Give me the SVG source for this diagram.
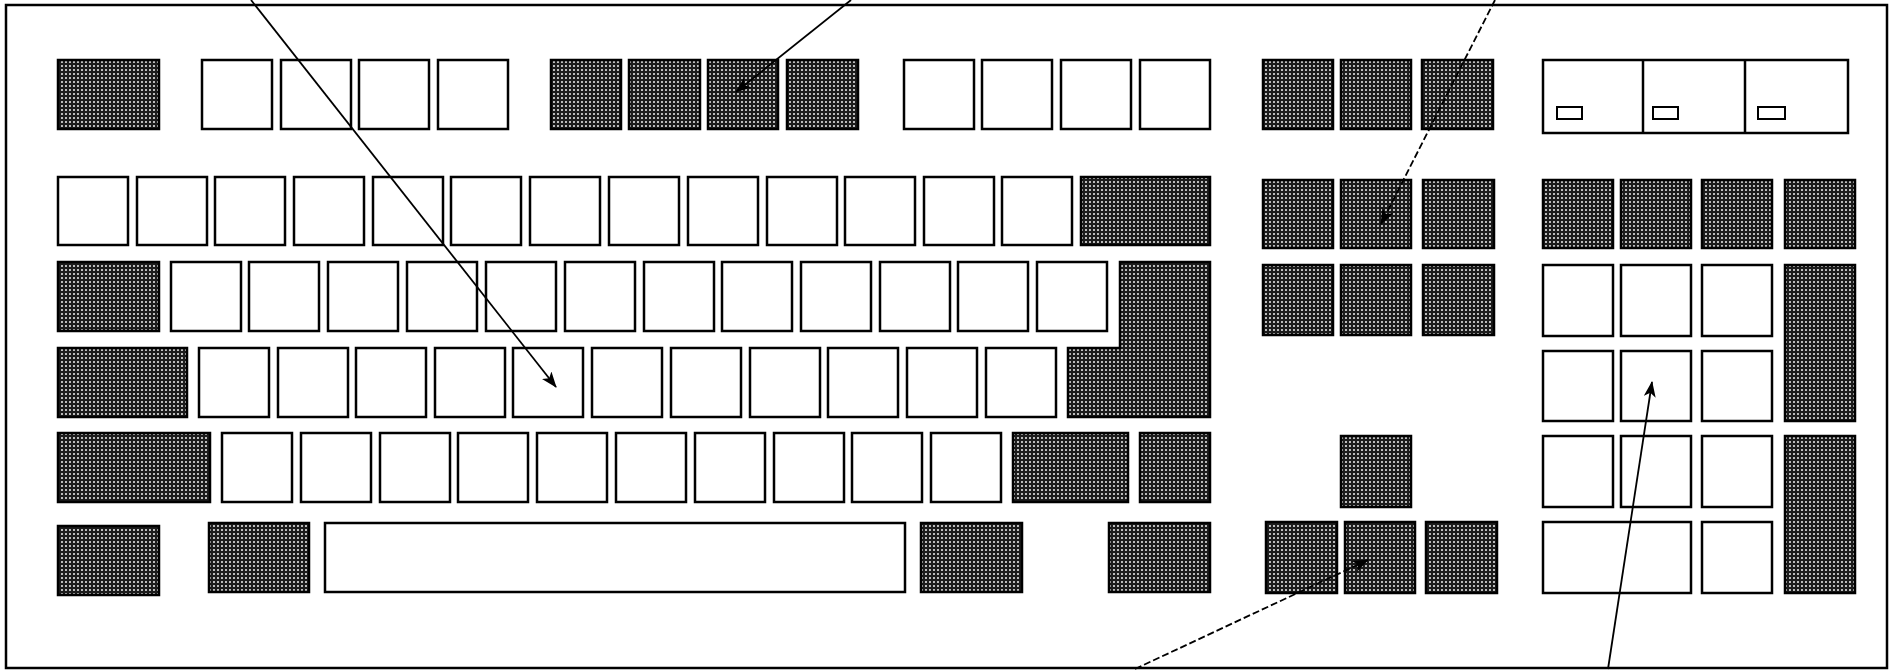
<svg xmlns="http://www.w3.org/2000/svg" width="1893" height="670" viewBox="0 0 1893 670">
<defs>
<pattern id="dots" width="4" height="4" patternUnits="userSpaceOnUse">
<rect width="4" height="4" fill="#1c1c1c"/>
<circle cx="2" cy="2" r="0.95" fill="#fff"/>
</pattern>
<marker id="ah" markerWidth="16" markerHeight="12" refX="15" refY="6" orient="auto" markerUnits="userSpaceOnUse">
<path d="M0,0 L16,6 L0,12 L4,6 z" fill="#000"/>
</marker>
<style>
.k{fill:#fff;stroke:#000;stroke-width:2.5}
.s{fill:url(#dots);stroke:#000;stroke-width:2.5}
.frame{fill:#fff;stroke:#000;stroke-width:2.5}
.led{fill:#fff;stroke:#000;stroke-width:2}
.c{fill:none;stroke:#000;stroke-width:1.8;marker-end:url(#ah)}
</style>
</defs>
<rect width="1893" height="670" fill="#fff"/>
<rect id="keyboard-frame" class="frame" x="6" y="5" width="1881" height="663"/>

<g id="function-row">
<rect class="s" x="58" y="60" width="101" height="69"/>
<rect class="k" x="202" y="60" width="70" height="69"/>
<rect class="k" x="281" y="60" width="70" height="69"/>
<rect class="k" x="359" y="60" width="70" height="69"/>
<rect class="k" x="438" y="60" width="70" height="69"/>
<rect class="s" x="551" y="60" width="70" height="69"/>
<rect class="s" x="629" y="60" width="71" height="69"/>
<rect class="s" x="708" y="60" width="70" height="69"/>
<rect class="s" x="787" y="60" width="71" height="69"/>
<rect class="k" x="904" y="60" width="70" height="69"/>
<rect class="k" x="982" y="60" width="70" height="69"/>
<rect class="k" x="1061" y="60" width="70" height="69"/>
<rect class="k" x="1140" y="60" width="70" height="69"/>
</g>

<g id="system-keys">
<rect class="s" x="1263" y="60" width="70" height="69"/>
<rect class="s" x="1341" y="60" width="70" height="69"/>
<rect class="s" x="1422" y="60" width="71" height="69"/>
</g>

<g id="indicator-panel">
<rect class="k" x="1543" y="60" width="305" height="73"/>
<line x1="1643" y1="60" x2="1643" y2="133" stroke="#000" stroke-width="2.5"/>
<line x1="1745" y1="60" x2="1745" y2="133" stroke="#000" stroke-width="2.5"/>
<rect class="led" x="1557" y="107" width="25" height="12"/>
<rect class="led" x="1653" y="107" width="25" height="12"/>
<rect class="led" x="1758" y="107" width="27" height="12"/>
</g>

<g id="number-row">
<rect class="k" x="58" y="177" width="70" height="68"/>
<rect class="k" x="137" y="177" width="70" height="68"/>
<rect class="k" x="215" y="177" width="70" height="68"/>
<rect class="k" x="294" y="177" width="70" height="68"/>
<rect class="k" x="373" y="177" width="70" height="68"/>
<rect class="k" x="451" y="177" width="70" height="68"/>
<rect class="k" x="530" y="177" width="70" height="68"/>
<rect class="k" x="609" y="177" width="70" height="68"/>
<rect class="k" x="688" y="177" width="70" height="68"/>
<rect class="k" x="767" y="177" width="70" height="68"/>
<rect class="k" x="845" y="177" width="70" height="68"/>
<rect class="k" x="924" y="177" width="70" height="68"/>
<rect class="k" x="1002" y="177" width="70" height="68"/>
<rect class="s" x="1081" y="177" width="129" height="68"/>
</g>

<g id="qwerty-row">
<rect class="s" x="58" y="262" width="101" height="69"/>
<rect class="k" x="171" y="262" width="70" height="69"/>
<rect class="k" x="249" y="262" width="70" height="69"/>
<rect class="k" x="328" y="262" width="70" height="69"/>
<rect class="k" x="407" y="262" width="70" height="69"/>
<rect class="k" x="486" y="262" width="70" height="69"/>
<rect class="k" x="565" y="262" width="70" height="69"/>
<rect class="k" x="644" y="262" width="70" height="69"/>
<rect class="k" x="722" y="262" width="70" height="69"/>
<rect class="k" x="801" y="262" width="70" height="69"/>
<rect class="k" x="880" y="262" width="70" height="69"/>
<rect class="k" x="958" y="262" width="70" height="69"/>
<rect class="k" x="1037" y="262" width="70" height="69"/>
<path id="enter-key" class="s" d="M1120,262 H1210 V417 H1068 V348 H1120 Z"/>
</g>

<g id="home-row">
<rect class="s" x="58" y="348" width="129" height="69"/>
<rect class="k" x="199" y="348" width="70" height="69"/>
<rect class="k" x="278" y="348" width="70" height="69"/>
<rect class="k" x="356" y="348" width="70" height="69"/>
<rect class="k" x="435" y="348" width="70" height="69"/>
<rect class="k" x="513" y="348" width="70" height="69"/>
<rect class="k" x="592" y="348" width="70" height="69"/>
<rect class="k" x="671" y="348" width="70" height="69"/>
<rect class="k" x="750" y="348" width="70" height="69"/>
<rect class="k" x="828" y="348" width="70" height="69"/>
<rect class="k" x="907" y="348" width="70" height="69"/>
<rect class="k" x="986" y="348" width="70" height="69"/>
</g>

<g id="shift-row">
<rect class="s" x="58" y="433" width="152" height="69"/>
<rect class="k" x="222" y="433" width="70" height="69"/>
<rect class="k" x="301" y="433" width="70" height="69"/>
<rect class="k" x="380" y="433" width="70" height="69"/>
<rect class="k" x="458" y="433" width="70" height="69"/>
<rect class="k" x="537" y="433" width="70" height="69"/>
<rect class="k" x="616" y="433" width="70" height="69"/>
<rect class="k" x="695" y="433" width="70" height="69"/>
<rect class="k" x="774" y="433" width="70" height="69"/>
<rect class="k" x="852" y="433" width="70" height="69"/>
<rect class="k" x="931" y="433" width="70" height="69"/>
<rect class="s" x="1013" y="433" width="115" height="69"/>
<rect class="s" x="1140" y="433" width="70" height="69"/>
</g>

<g id="bottom-row">
<rect class="s" x="58" y="526" width="101" height="69"/>
<rect class="s" x="209" y="523" width="100" height="69"/>
<rect id="space-bar" class="k" x="325" y="523" width="580" height="69"/>
<rect class="s" x="921" y="523" width="101" height="69"/>
<rect class="s" x="1109" y="523" width="101" height="69"/>
</g>

<g id="navigation-cluster">
<rect class="s" x="1263" y="180" width="70" height="68"/>
<rect class="s" x="1341" y="180" width="70" height="68"/>
<rect class="s" x="1423" y="180" width="71" height="68"/>
<rect class="s" x="1263" y="265" width="70" height="70"/>
<rect class="s" x="1341" y="265" width="70" height="70"/>
<rect class="s" x="1423" y="265" width="71" height="70"/>
</g>

<g id="arrow-keys">
<rect class="s" x="1341" y="436" width="70" height="71"/>
<rect class="s" x="1266" y="522" width="71" height="71"/>
<rect class="s" x="1345" y="522" width="70" height="71"/>
<rect class="s" x="1426" y="522" width="71" height="71"/>
</g>

<g id="numeric-keypad">
<rect class="s" x="1543" y="180" width="70" height="68"/>
<rect class="s" x="1621" y="180" width="70" height="68"/>
<rect class="s" x="1702" y="180" width="70" height="68"/>
<rect class="s" x="1785" y="180" width="70" height="68"/>
<rect class="k" x="1543" y="265" width="70" height="71"/>
<rect class="k" x="1621" y="265" width="70" height="71"/>
<rect class="k" x="1702" y="265" width="70" height="71"/>
<rect class="s" x="1785" y="265" width="70" height="156"/>
<rect class="k" x="1543" y="351" width="70" height="70"/>
<rect class="k" x="1621" y="351" width="70" height="70"/>
<rect class="k" x="1702" y="351" width="70" height="70"/>
<rect class="k" x="1543" y="436" width="70" height="71"/>
<rect class="k" x="1621" y="436" width="70" height="71"/>
<rect class="k" x="1702" y="436" width="70" height="71"/>
<rect class="s" x="1785" y="436" width="70" height="157"/>
<rect class="k" x="1543" y="522" width="148" height="71"/>
<rect class="k" x="1702" y="522" width="70" height="71"/>
</g>

<g id="connectors">
<line class="c" x1="251" y1="0" x2="556" y2="387"/>
<line class="c" x1="851" y1="0" x2="736" y2="92"/>
<line class="c" x1="1495" y1="0" x2="1381" y2="224" stroke-dasharray="7 3"/>
<line class="c" x1="1135" y1="669" x2="1368" y2="560" stroke-dasharray="7 3"/>
<line class="c" x1="1608" y1="669" x2="1652" y2="382"/>
</g>
</svg>
